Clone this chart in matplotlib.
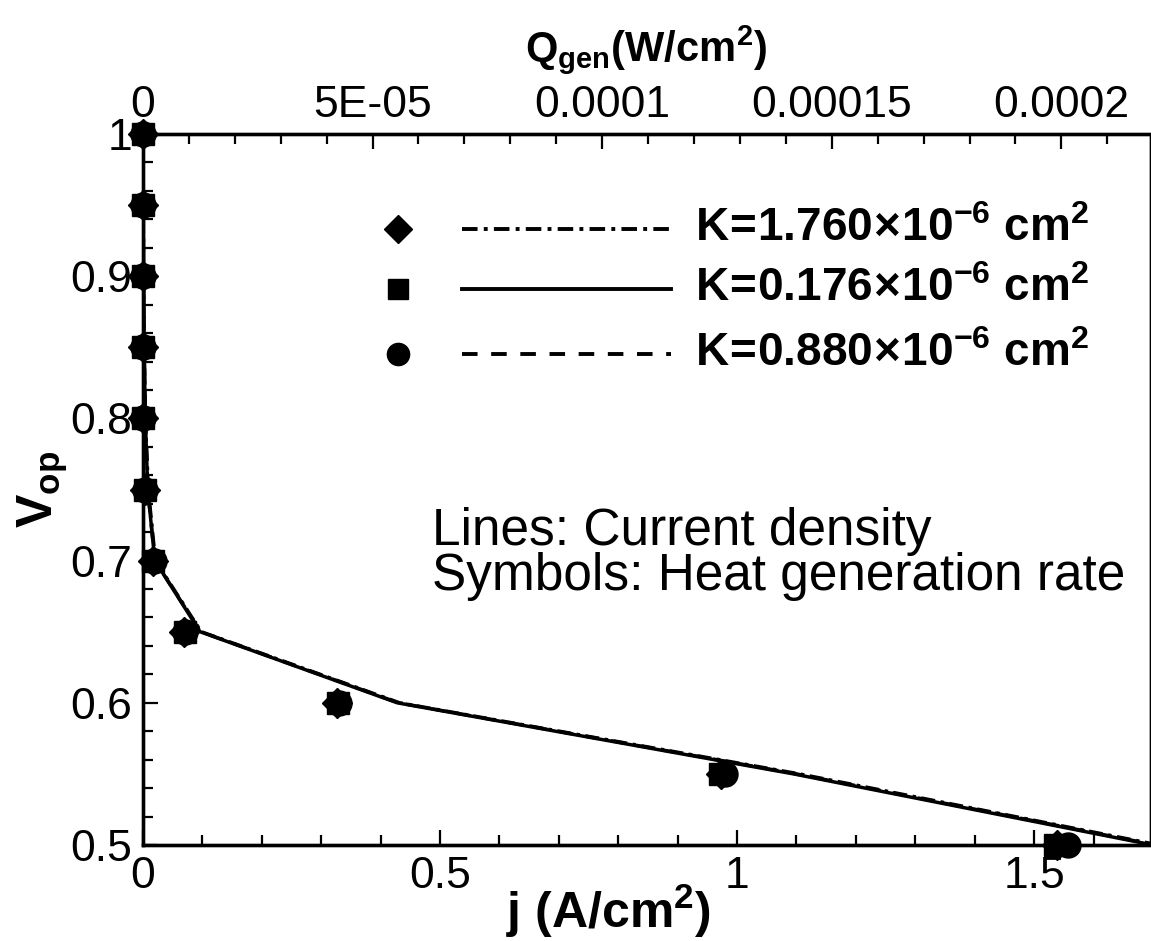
import matplotlib
matplotlib.use("Agg")
import matplotlib.pyplot as plt
from matplotlib.ticker import MultipleLocator

plt.rcParams['font.family'] = ['Liberation Sans', 'DejaVu Sans']
plt.rcParams['mathtext.fontset'] = 'custom'
plt.rcParams['mathtext.rm'] = 'Liberation Sans'
plt.rcParams['mathtext.it'] = 'Liberation Sans:italic'
plt.rcParams['mathtext.bf'] = 'Liberation Sans:bold'

# ---- data ----
# operating voltage levels
V = [1.0, 0.95, 0.9, 0.85, 0.8, 0.75, 0.7, 0.65, 0.6, 0.55, 0.5]

# current density j (A/cm2), lines
j_k1760 = [0.0, 0.0005, 0.001, 0.002, 0.004, 0.009, 0.021, 0.098, 0.432, 1.105, 1.710]
j_k0176 = [0.0, 0.0005, 0.001, 0.002, 0.004, 0.008, 0.020, 0.096, 0.428, 1.095, 1.700]
j_k0880 = [0.0, 0.0005, 0.001, 0.002, 0.004, 0.008, 0.020, 0.097, 0.430, 1.100, 1.705]

# heat generation rate Qgen (W/cm2), symbols
q_k1760 = [0.0, 0.0, 0.0, 0.0, 1e-7, 4e-7, 2.1e-6, 9.0e-6, 4.22e-5, 1.258e-4, 1.990e-4]
q_k0176 = [0.0, 0.0, 0.0, 0.0, 1e-7, 4e-7, 2.2e-6, 9.1e-6, 4.25e-5, 1.257e-4, 1.987e-4]
q_k0880 = [0.0, 0.0, 0.0, 0.0, 1e-7, 4e-7, 2.3e-6, 9.2e-6, 4.26e-5, 1.268e-4, 2.015e-4]

labels = [r'$\mathbf{K\!=\!1.760\!\times\!10^{-6}\ cm^2}$',
          r'$\mathbf{K\!=\!0.176\!\times\!10^{-6}\ cm^2}$',
          r'$\mathbf{K\!=\!0.880\!\times\!10^{-6}\ cm^2}$']

x_ticks = [0, 0.5, 1, 1.5]
x_tick_labels = ['0', '0.5', '1', '1.5']
y_ticks = [0.5, 0.6, 0.7, 0.8, 0.9, 1.0]
y_tick_labels = ['0.5', '0.6', '0.7', '0.8', '0.9', '1']
q_ticks = [0, 5e-5, 1e-4, 1.5e-4, 2e-4]
q_tick_labels = ['0', '5E-05', '0.0001', '0.00015', '0.0002']

# ---- figure ----
fig = plt.figure(figsize=(11.51, 9.41), dpi=100)
ax = fig.add_axes([0.1242, 0.102, 0.8749, 0.7556])
ax2 = ax.twiny()

dashdot = (0, (4, 1.6, 1, 1.6))
dashed = (0, (4, 3.5))
lw = 2.5

ax.plot(j_k1760, V, color='black', lw=lw, linestyle=dashdot)
ax.plot(j_k0176, V, color='black', lw=lw, linestyle='-')
ax.plot(j_k0880, V, color='black', lw=lw, linestyle=dashed)

ax2.plot(q_k1760, V, linestyle='none', marker='D', ms=15, color='black', clip_on=False)
ax2.plot(q_k0176, V, linestyle='none', marker='s', ms=16, color='black', clip_on=False)
ax2.plot(q_k0880, V, linestyle='none', marker='o', ms=18, color='black', clip_on=False)

ax.set_xlim(0, 1.695)
ax.set_ylim(0.5, 1.0)
ax2.set_xlim(0, 2.193e-4)

ax.set_xticks(x_ticks, labels=x_tick_labels)
ax.set_yticks(y_ticks, labels=y_tick_labels)
ax.xaxis.set_minor_locator(MultipleLocator(0.1))
ax.yaxis.set_minor_locator(MultipleLocator(0.02))
ax2.set_xticks(q_ticks, labels=q_tick_labels)
ax2.xaxis.set_minor_locator(MultipleLocator(1e-5))

for a in (ax, ax2):
    for s in ('left', 'bottom', 'top'):
        a.spines[s].set_linewidth(2.4)
    a.spines['right'].set_linewidth(1.0)

ax.tick_params(which='both', direction='in', top=False, right=False,
               width=1.6, labelsize=32, pad=8)
ax.tick_params(which='major', length=11)
ax.tick_params(which='minor', length=7)
ax2.tick_params(which='both', direction='in', top=True, bottom=False,
                width=1.6, labelsize=32, pad=6)
ax2.tick_params(which='major', length=11)
ax2.tick_params(which='minor', length=7)

ax.set_xlabel(r'$\mathbf{j\ (A/cm^2)}$', fontsize=36)
ax.xaxis.set_label_coords(0.462, -0.052)
ax.set_ylabel(r'$\mathbf{V_{op}}$', fontsize=36)
ax.yaxis.set_label_coords(-0.072, 0.5)
ax2.set_xlabel(r'$\mathbf{Q_{gen}(W/cm^2)}$', fontsize=30)
ax2.xaxis.set_label_coords(0.5, 1.102)

# legend drawn in axes fraction: symbol, line sample, label
rows_y = [0.866, 0.782, 0.690]
markers = [('D', 14), ('s', 14), ('o', 16)]
styles = [dashdot, '-', dashed]
for yy, (m, ms), ls, lab in zip(rows_y, markers, styles, labels):
    ax.plot([0.253], [yy], marker=m, ms=ms, color='black', transform=ax.transAxes)
    ax.plot([0.317, 0.524], [yy, yy], color='black', lw=2.8, linestyle=ls,
            transform=ax.transAxes)
    ax.text(0.548, yy, lab, transform=ax.transAxes, fontsize=33, va='center', ha='left')

ax.text(0.287, 0.4225, 'Lines: Current density', transform=ax.transAxes,
        fontsize=37, va='baseline', ha='left')
ax.text(0.287, 0.359, 'Symbols: Heat generation rate', transform=ax.transAxes,
        fontsize=37, va='baseline', ha='left')

fig.savefig('out.png', dpi=100)
